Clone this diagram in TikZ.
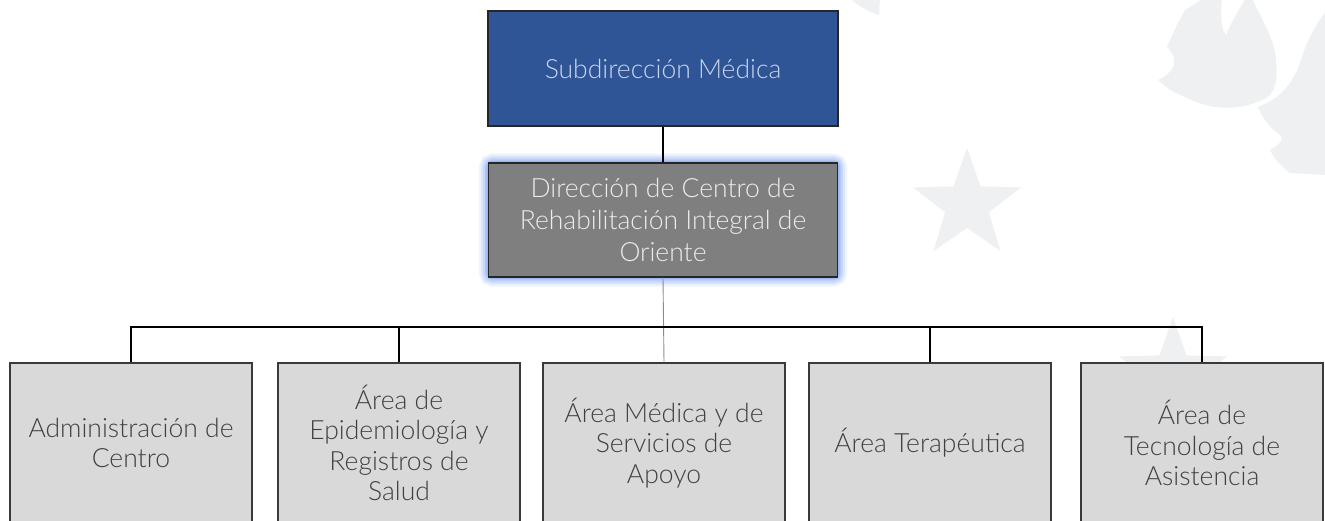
\documentclass[tikz,border=0pt]{standalone}
\usepackage{fontspec}
\setmainfont{Lato Light}
\usetikzlibrary{backgrounds}
\definecolor{topblue}{HTML}{2F5597}
\definecolor{topfont}{HTML}{C9D5EC}
\definecolor{midgray}{HTML}{7F7F7F}
\definecolor{midfont}{HTML}{ECECEC}
\definecolor{boxgray}{HTML}{D9D9D9}
\definecolor{boxfont}{HTML}{404040}
\definecolor{boxline}{HTML}{3A3A3A}
\definecolor{glowblue}{HTML}{7FA3F2}
\definecolor{wmark}{HTML}{EFF0F2}
\tikzset{
  topbox/.style={draw=black!85, line width=1.4pt, fill=topblue, text=topfont,
    minimum width=350pt, minimum height=115pt, inner sep=0pt, align=center,
    font=\fontsize{26.5}{31}\selectfont},
  dirbox/.style={draw=black!85, line width=1.4pt, fill=midgray, text=midfont,
    minimum width=349pt, minimum height=114pt, inner sep=0pt, align=center,
    font=\fontsize{26.5}{32}\selectfont},
  areabox/.style={draw=boxline, line width=1.6pt, fill=boxgray, text=boxfont,
    minimum width=242pt, minimum height=160pt, inner sep=0pt, align=center,
    font=\fontsize{26.5}{30.5}\selectfont},
  link/.style={draw=black, line width=2pt},
  thinlink/.style={draw=black!45, line width=0.9pt},
  glowline/.style={draw=glowblue, rounded corners=5pt},
  wm/.style={fill=wmark, draw=none}
}
\begin{document}
\begin{tikzpicture}[x=1pt,y=-1pt]
\useasboundingbox (0,0) rectangle (1325,520);
\clip (0,0) rectangle (1325,520);

\node[topbox] (top) at (663,68.5) {Subdirección Médica};
\node[dirbox] (dir) at (663,220) {Dirección de Centro de\\Rehabilitación Integral de\\Oriente};

\node[areabox] (b1) at (131,443) {Administración de\\Centro};
\node[areabox] (b2) at (399,443) {Área de\\Epidemiología y\\Registros de\\Salud};
\node[areabox] (b3) at (664,443) {Área Médica y de\\Servicios de\\Apoyo};
\node[areabox] (b4) at (930,443) {Área Terapéutica};
\node[areabox] (b5) at (1202,443) {Área de\\Tecnología de\\Asistencia};

\coordinate (bar) at (0,327);

\begin{scope}[on background layer]
  % watermark stars
  \foreach \cx/\cy in {967/205, 1173/374} {
    \fill[wm] ({\cx+57*cos(90)},{\cy-57*sin(90)})
      -- ({\cx+23*cos(126)},{\cy-23*sin(126)})
      -- ({\cx+57*cos(162)},{\cy-57*sin(162)})
      -- ({\cx+23*cos(198)},{\cy-23*sin(198)})
      -- ({\cx+57*cos(234)},{\cy-57*sin(234)})
      -- ({\cx+23*cos(270)},{\cy-23*sin(270)})
      -- ({\cx+57*cos(306)},{\cy-57*sin(306)})
      -- ({\cx+23*cos(342)},{\cy-23*sin(342)})
      -- ({\cx+57*cos(18)},{\cy-57*sin(18)})
      -- ({\cx+23*cos(54)},{\cy-23*sin(54)}) -- cycle;
  }
  % watermark doves (approximate silhouettes)
  \fill[wm] (1158,80) .. controls (1175,72) and (1180,60) .. (1167,47)
    .. controls (1172,35) and (1178,22) .. (1185,10)
    .. controls (1195,4) and (1200,0) .. (1205,-2)
    -- (1222,-2) .. controls (1220,20) and (1222,30) .. (1226,35)
    .. controls (1232,20) and (1240,8) .. (1246,-2)
    -- (1252,-2) .. controls (1262,20) and (1275,40) .. (1276,60)
    .. controls (1278,80) and (1276,95) .. (1262,100)
    .. controls (1245,108) and (1225,110) .. (1205,105)
    .. controls (1190,100) and (1180,95) .. (1170,90) -- cycle;
  \fill[wm] (1258,107) .. controls (1275,100) and (1290,90) .. (1300,63)
    .. controls (1305,45) and (1315,25) .. (1325,13)
    -- (1326,175) -- (1290,173)
    .. controls (1280,165) and (1275,160) .. (1270,150)
    .. controls (1278,145) and (1285,140) .. (1280,135)
    .. controls (1270,128) and (1262,118) .. (1258,107) -- cycle;
  \fill[wm] (850,-2) -- (880,-2) -- (879,15) .. controls (865,10) and (858,6) .. (850,-2) -- cycle;
  % glow around direction box
  \foreach \w/\o in {18/0.12, 14/0.16, 10/0.22, 6/0.3, 3/0.45} {
    \draw[glowline, line width=\w pt, opacity=\o] (dir.south west) rectangle (dir.north east);
  }
\end{scope}

\draw[link] (top.south) -- (dir.north);
\draw[thinlink] (dir.south) -- (b3.north);
\draw[link] (b1.north) -- (b1.north |- bar) -- (b5.north |- bar) -- (b5.north);
\draw[link] (b2.north) -- (b2.north |- bar);
\draw[link] (b4.north) -- (b4.north |- bar);
\end{tikzpicture}
\end{document}
